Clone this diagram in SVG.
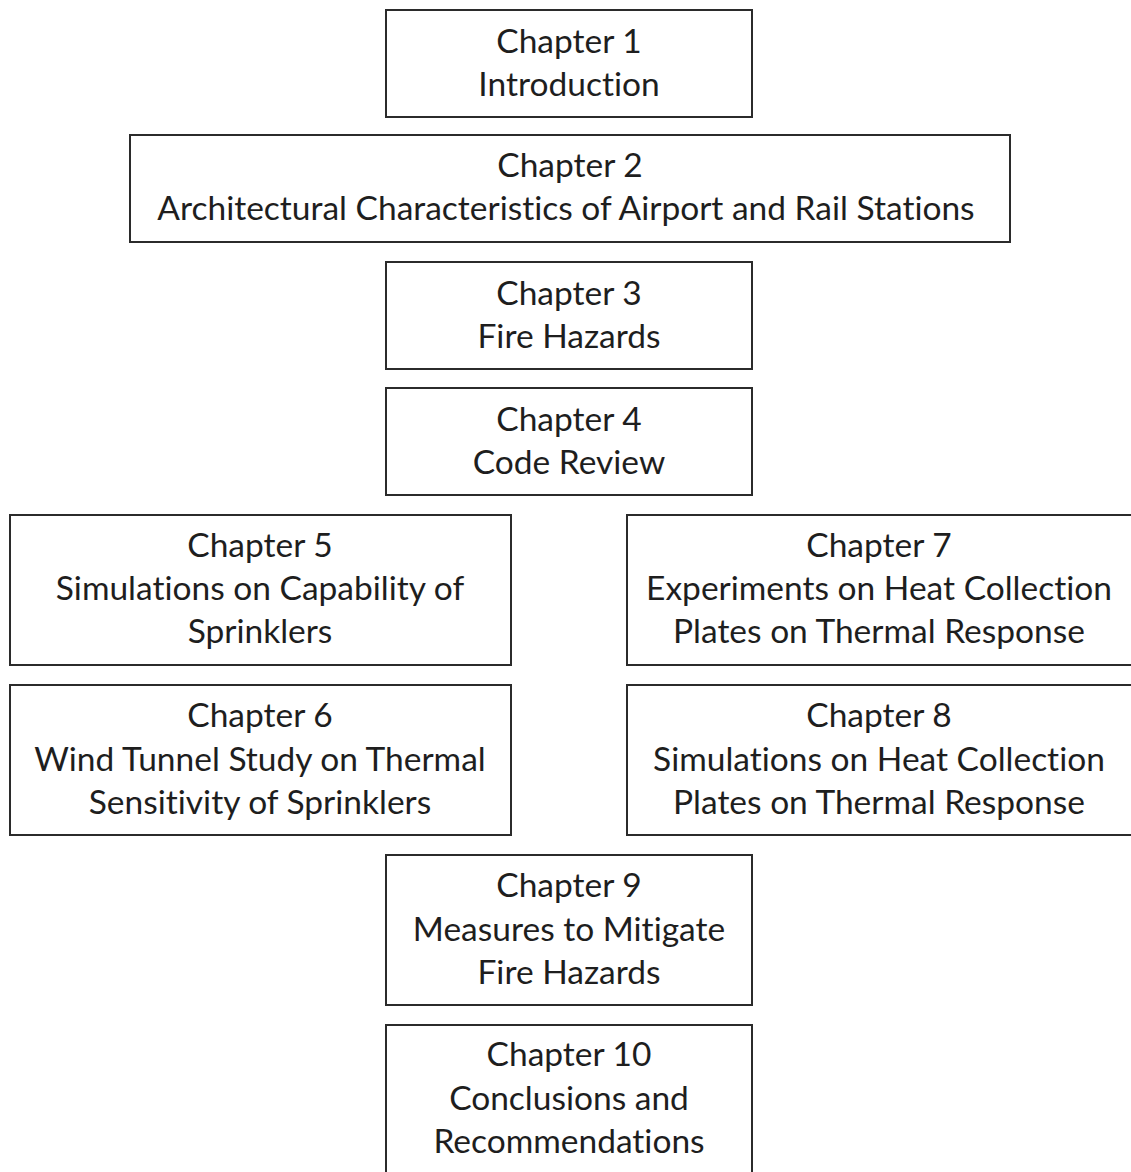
<svg xmlns="http://www.w3.org/2000/svg" width="1131" height="1172" viewBox="0 0 1131 1172">
  <style>
    .box { fill: #ffffff; stroke: #2b2b2b; stroke-width: 2; }
    .label { font-family: Lato, "Open Sans", "Liberation Sans", sans-serif; font-size: 33.5px; fill: #1e1e1e; text-anchor: middle; font-variant-ligatures: none; }
  </style>
  <rect width="1131" height="1172" fill="#ffffff"/>
  <g id="connectors"></g>
  <g id="ch1">
    <rect class="box" x="386" y="10" width="366" height="107"/>
    <text class="label" x="569" y="53">Chapter 1</text>
    <text class="label" x="569" y="96">Introduction</text>
  </g>
  <g id="ch2">
    <rect class="box" x="130" y="135" width="880" height="107"/>
    <text class="label" x="570" y="177">Chapter 2</text>
    <text class="label" x="566" y="220">Architectural Characteristics of Airport and Rail Stations</text>
  </g>
  <g id="ch3">
    <rect class="box" x="386" y="262" width="366" height="107"/>
    <text class="label" x="569" y="305">Chapter 3</text>
    <text class="label" x="569" y="348">Fire Hazards</text>
  </g>
  <g id="ch4">
    <rect class="box" x="386" y="388" width="366" height="107"/>
    <text class="label" x="569" y="431">Chapter 4</text>
    <text class="label" x="569" y="474">Code Review</text>
  </g>
  <g id="ch5">
    <rect class="box" x="10" y="515" width="501" height="150"/>
    <text class="label" x="260" y="557">Chapter 5</text>
    <text class="label" x="260" y="600">Simulations on Capability of</text>
    <text class="label" x="260" y="643">Sprinklers</text>
  </g>
  <g id="ch6">
    <rect class="box" x="10" y="685" width="501" height="150"/>
    <text class="label" x="260" y="727">Chapter 6</text>
    <text class="label" x="260" y="771">Wind Tunnel Study on Thermal</text>
    <text class="label" x="260" y="814">Sensitivity of Sprinklers</text>
  </g>
  <g id="ch7">
    <rect class="box" x="627" y="515" width="510" height="150"/>
    <text class="label" x="879" y="557">Chapter 7</text>
    <text class="label" x="879" y="600">Experiments on Heat Collection</text>
    <text class="label" x="879" y="643">Plates on Thermal Response</text>
  </g>
  <g id="ch8">
    <rect class="box" x="627" y="685" width="510" height="150"/>
    <text class="label" x="879" y="727">Chapter 8</text>
    <text class="label" x="879" y="771">Simulations on Heat Collection</text>
    <text class="label" x="879" y="814">Plates on Thermal Response</text>
  </g>
  <g id="ch9">
    <rect class="box" x="386" y="855" width="366" height="150"/>
    <text class="label" x="569" y="897">Chapter 9</text>
    <text class="label" x="569" y="941">Measures to Mitigate</text>
    <text class="label" x="569" y="984">Fire Hazards</text>
  </g>
  <g id="ch10">
    <rect class="box" x="386" y="1025" width="366" height="160"/>
    <text class="label" x="569" y="1066">Chapter 10</text>
    <text class="label" x="569" y="1110">Conclusions and</text>
    <text class="label" x="569" y="1153">Recommendations</text>
  </g>
</svg>
